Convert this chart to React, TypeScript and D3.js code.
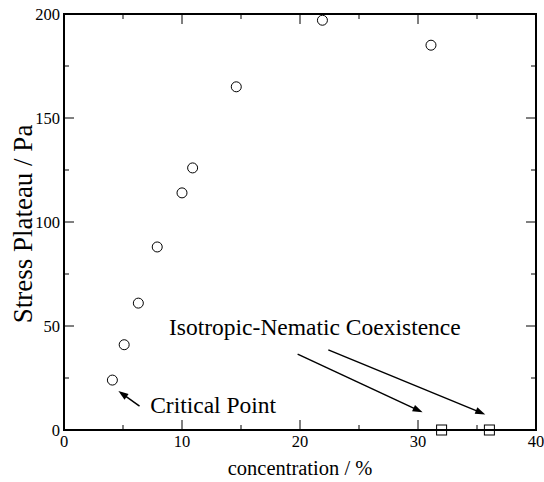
import React from "react";
import * as d3 from "d3";

const concentration = [4.1, 5.1, 6.3, 7.9, 10.0, 10.9, 14.6, 21.9, 31.1];
const stressPlateau = [24, 41, 61, 88, 114, 126, 165, 197, 185];
const coexConcentration = [32.0, 36.05];
const coexStress = [0, 0];
const xTicks = [0, 10, 20, 30, 40];
const yTicks = [0, 50, 100, 150, 200];
const xMinor = [5, 15, 25, 35];
const yMinor = [25, 75, 125, 175];

const annotations = [
  { text: "Critical Point", x: 7.3, y: 8.0 },
  { text: "Isotropic-Nematic Coexistence", x: 8.9, y: 45.7 },
];
const arrows = [
  { x1: 6.4, y1: 11.5, x2: 4.61, y2: 18.7 },
  { x1: 19.8, y1: 36.5, x2: 30.39, y2: 8.5 },
  { x1: 22.4, y1: 38.5, x2: 35.7, y2: 7.5 },
];

const W = 544, H = 482;
const M = { left: 64, top: 14, right: 536, bottom: 430 };
const FONT = "Liberation Serif";

export default function App() {
  const x = d3.scaleLinear().domain([0, 40]).range([M.left, M.right]);
  const y = d3.scaleLinear().domain([0, 200]).range([M.bottom, M.top]);

  const arrowHead = (a: { x1: number; y1: number; x2: number; y2: number }) => {
    const X1 = x(a.x1), Y1 = y(a.y1), X2 = x(a.x2), Y2 = y(a.y2);
    const ang = Math.atan2(Y2 - Y1, X2 - X1);
    const L = 10, Wd = 3.5;
    const bx = X2 - L * Math.cos(ang), by = Y2 - L * Math.sin(ang);
    const px = -Math.sin(ang) * Wd, py = Math.cos(ang) * Wd;
    return {
      line: { X1, Y1, X2: X2 - 4 * Math.cos(ang), Y2: Y2 - 4 * Math.sin(ang) },
      pts: `${X2},${Y2} ${bx + px},${by + py} ${bx - px},${by - py}`,
    };
  };

  const coexLine = d3.line<number>().x((d, i) => x(coexConcentration[i])).y((d) => y(d))(coexStress) || "";
  const ts = { fontFamily: FONT };

  return (
    <svg width={W} height={H} style={{ position: "absolute", left: 0, top: 0, background: "#fff" }}>
      <rect x={0} y={0} width={W} height={H} fill="#fff" />
      <path d={coexLine} stroke="#8b0000" strokeWidth={1.5} fill="none" />
      <g stroke="#000" strokeWidth={1}>
        {xTicks.map((t) => (
          <g key={"xt" + t}>
            <line x1={x(t)} x2={x(t)} y1={M.bottom} y2={M.bottom - 10} />
            <line x1={x(t)} x2={x(t)} y1={M.top} y2={M.top + 10} />
          </g>
        ))}
        {xMinor.map((t) => (
          <g key={"xm" + t}>
            <line x1={x(t)} x2={x(t)} y1={M.bottom} y2={M.bottom - 5} />
            <line x1={x(t)} x2={x(t)} y1={M.top} y2={M.top + 5} />
          </g>
        ))}
        {yTicks.map((t) => (
          <g key={"yt" + t}>
            <line x1={M.left} x2={M.left + 10} y1={y(t)} y2={y(t)} />
            <line x1={M.right} x2={M.right - 10} y1={y(t)} y2={y(t)} />
          </g>
        ))}
        {yMinor.map((t) => (
          <g key={"ym" + t}>
            <line x1={M.left} x2={M.left + 5} y1={y(t)} y2={y(t)} />
            <line x1={M.right} x2={M.right - 5} y1={y(t)} y2={y(t)} />
          </g>
        ))}
      </g>
      <rect x={M.left} y={M.top} width={M.right - M.left} height={M.bottom - M.top} fill="none" stroke="#000" strokeWidth={2} />
      <g fontFamily={FONT} fill="#000">
        {xTicks.map((t) => (
          <text key={"xl" + t} x={x(t)} y={M.bottom + 17} fontSize={16.5} textAnchor="middle" style={ts}>{t}</text>
        ))}
        {yTicks.map((t) => (
          <text key={"yl" + t} x={M.left - 4} y={y(t) + 5.5} fontSize={16.5} textAnchor="end" style={ts}>{t}</text>
        ))}
        <text x={(M.left + M.right) / 2} y={475} fontSize={20.5} textAnchor="middle" style={ts}>concentration / %</text>
        <text transform={`translate(32, ${(M.top + M.bottom) / 2 + 2}) rotate(-90)`} fontSize={27} textAnchor="middle" style={ts}>Stress Plateau / Pa</text>
        {annotations.map((a, i) => (
          <text key={"t" + i} x={x(a.x)} y={y(a.y)} fontSize={23.5} style={ts}>{a.text}</text>
        ))}
      </g>
      {concentration.map((c, i) => (
        <circle key={"c" + i} cx={x(c)} cy={y(stressPlateau[i])} r={5} fill="none" stroke="#000" strokeWidth={1} />
      ))}
      {coexConcentration.map((c, i) => (
        <rect key={"s" + i} x={x(c) - 5} y={y(coexStress[i]) - 5} width={10} height={10} fill="none" stroke="#000" strokeWidth={1} />
      ))}
      {arrows.map((a, i) => {
        const h = arrowHead(a);
        return (
          <g key={"a" + i}>
            <line x1={h.line.X1} y1={h.line.Y1} x2={h.line.X2} y2={h.line.Y2} stroke="#000" strokeWidth={1.5} />
            <polygon points={h.pts} fill="#000" />
          </g>
        );
      })}
    </svg>
  );
}
